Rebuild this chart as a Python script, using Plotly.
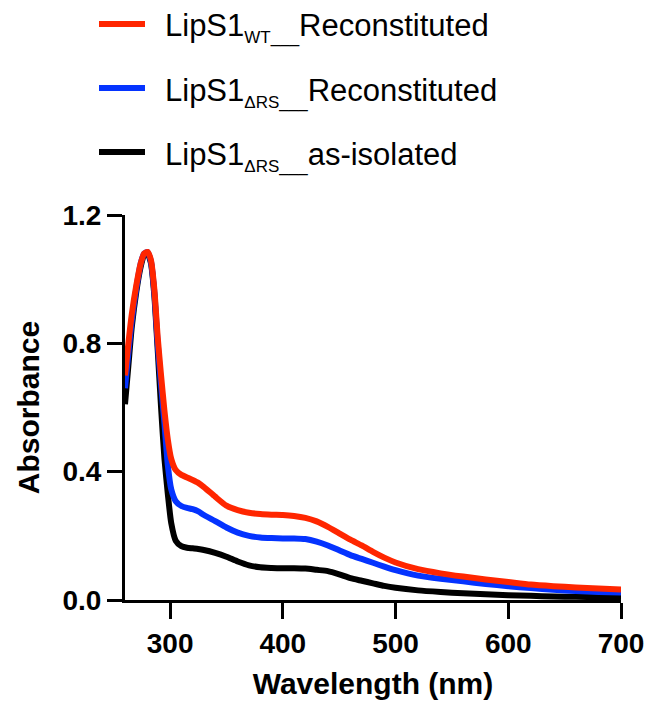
import plotly.graph_objects as go

# Wavelength grid (nm)
wavelength = [260, 263, 266, 270, 274, 277, 280, 283, 286, 289, 292, 295, 298, 301, 305,
              310, 315, 320, 325, 330, 340, 350, 360, 370, 380, 390, 400, 410, 420, 430,
              440, 450, 460, 470, 480, 490, 500, 520, 540, 560, 580, 600, 620, 640, 660,
              680, 700]

# Absorbance spectra
wt_reconstituted = [0.70, 0.80, 0.89, 0.98, 1.05, 1.08, 1.085, 1.06, 0.97, 0.82, 0.70, 0.59,
                    0.50, 0.44, 0.405, 0.39, 0.382, 0.374, 0.365, 0.352, 0.322, 0.294, 0.280,
                    0.272, 0.268, 0.266, 0.265, 0.262, 0.256, 0.245, 0.228, 0.208, 0.188,
                    0.170, 0.150, 0.132, 0.117, 0.096, 0.083, 0.073, 0.064, 0.056, 0.048,
                    0.043, 0.039, 0.036, 0.033]

drs_reconstituted = [0.66, 0.77, 0.87, 0.97, 1.05, 1.08, 1.085, 1.055, 0.96, 0.80, 0.67, 0.55,
                     0.42, 0.345, 0.308, 0.293, 0.287, 0.283, 0.276, 0.265, 0.246, 0.226,
                     0.210, 0.200, 0.195, 0.193, 0.192, 0.192, 0.190, 0.182, 0.170, 0.155,
                     0.140, 0.128, 0.116, 0.104, 0.093, 0.076, 0.066, 0.058, 0.050, 0.043,
                     0.037, 0.032, 0.028, 0.025, 0.023]

drs_as_isolated = [0.61, 0.73, 0.85, 0.96, 1.04, 1.075, 1.08, 1.05, 0.95, 0.78, 0.60, 0.44,
                   0.33, 0.24, 0.185, 0.168, 0.163, 0.161, 0.159, 0.156, 0.147, 0.135, 0.120,
                   0.108, 0.102, 0.100, 0.099, 0.099, 0.098, 0.094, 0.090, 0.080, 0.068,
                   0.060, 0.052, 0.044, 0.038, 0.030, 0.025, 0.021, 0.018, 0.015, 0.013,
                   0.011, 0.010, 0.009, 0.008]

series_names = ["LipS1<sub><span style='font-size:17px'>WT___</span></sub>Reconstituted",
                "LipS1<sub><span style='font-size:17px'>ΔRS___</span></sub>Reconstituted",
                "LipS1<sub><span style='font-size:17px'>ΔRS___</span></sub>as-isolated"]
series_values = [wt_reconstituted, drs_reconstituted, drs_as_isolated]
series_colors = ["#FF2600", "#0433FF", "#000000"]

x_ticks = [300, 400, 500, 600, 700]
y_ticks = [0.0, 0.4, 0.8, 1.2]

FONT = "Liberation Sans, Arial, Helvetica, sans-serif"

fig = go.Figure()

# draw black first so the red trace sits on top
for name, vals, col in reversed(list(zip(series_names, series_values, series_colors))):
    fig.add_trace(go.Scatter(
        x=wavelength, y=vals, mode="lines", name=name,
        line=dict(color=col, width=6, shape="spline", smoothing=0.6),
        showlegend=False,
    ))

# legend block drawn above the plot area
L, R, T, B = 125, 30, 215, 106
W, H = 651, 706
pw, ph = W - L - R, H - T - B
row_px = [24, 88, 152]
shapes = []
annotations = []
for name, col, py in zip(series_names, series_colors, row_px):
    yp = (H - B - py) / ph
    shapes.append(dict(type="line", xref="paper", yref="paper",
                       x0=(99 - L) / pw, x1=(145 - L) / pw, y0=yp, y1=yp,
                       line=dict(color=col, width=6)))
    annotations.append(dict(xref="paper", yref="paper", x=(163 - L) / pw,
                            y=(H - B - py - 4) / ph,
                            xanchor="left", yanchor="middle", text=name, showarrow=False,
                            font=dict(family=FONT, size=31, color="#000000")))

fig.update_layout(
    width=W, height=H,
    margin=dict(l=L, r=R, t=T, b=B, pad=0, autoexpand=False),
    paper_bgcolor="white", plot_bgcolor="white",
    shapes=shapes, annotations=annotations,
    font=dict(family=FONT, color="#000000"),
    xaxis=dict(
        range=[260, 700], tickvals=x_ticks, ticktext=[str(v) for v in x_ticks],
        showline=True, linecolor="black", linewidth=3, mirror=False,
        ticks="outside", ticklen=16, tickwidth=3, tickcolor="black",
        showgrid=False, zeroline=False, automargin=False,
        tickfont=dict(family=FONT, size=28, weight="bold"),
        title=dict(text="Wavelength (nm)", font=dict(family=FONT, size=30, weight="bold"),
                   standoff=16),
    ),
    yaxis=dict(
        range=[0, 1.2], tickvals=y_ticks, ticktext=[f"{v:.1f}" for v in y_ticks],
        showline=True, linecolor="black", linewidth=3, mirror=False,
        ticks="outside", ticklen=15, tickwidth=3, tickcolor="black",
        showgrid=False, zeroline=False, automargin=False,
        tickfont=dict(family=FONT, size=28, weight="bold"),
        title=dict(text="Absorbance", font=dict(family=FONT, size=30, weight="bold"),
                   standoff=14),
    ),
)

fig.write_html("out.html")
